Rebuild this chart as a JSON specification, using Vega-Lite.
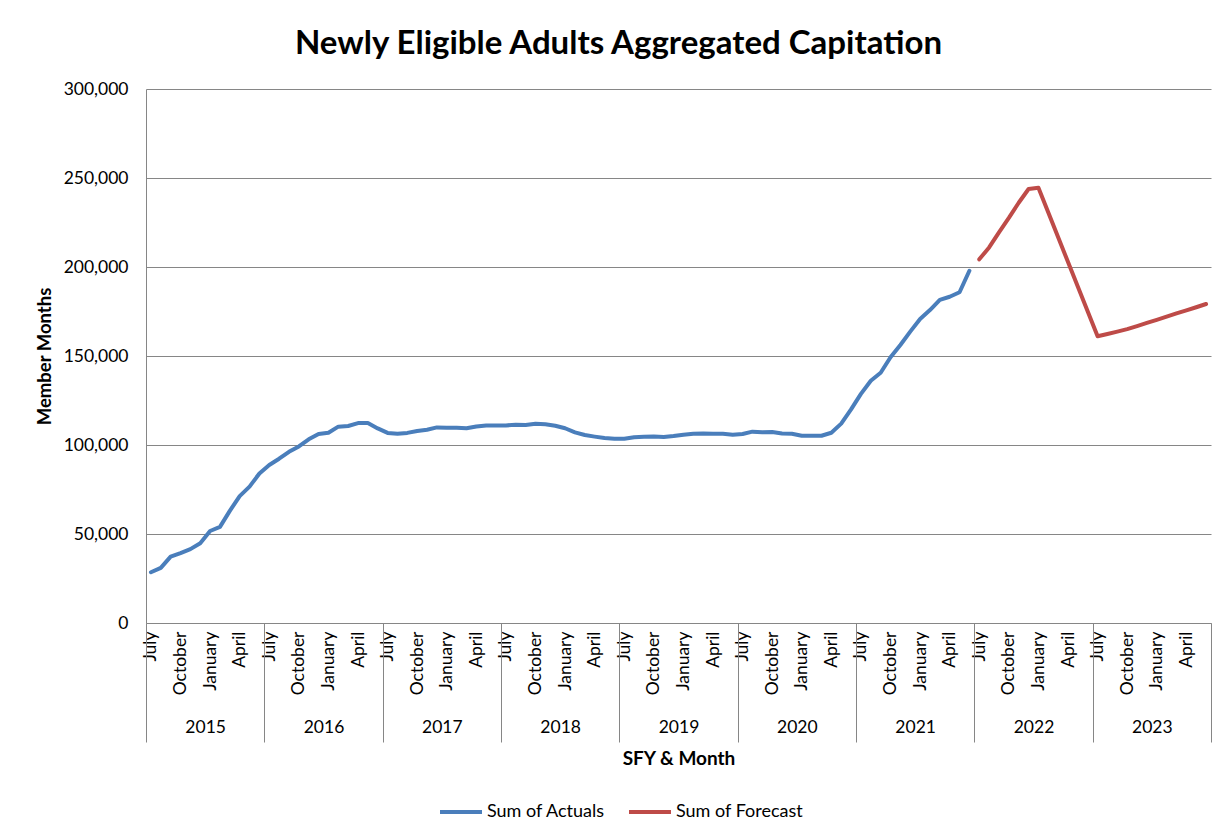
{
  "$schema": "https://vega.github.io/schema/vega-lite/v6.json",
  "width": 1065,
  "height": 534,
  "autosize": {"type": "none"},
  "padding": {"left": 146, "top": 89, "right": 11, "bottom": 217},
  "background": "white",
  "title": {"text": "Newly Eligible Adults Aggregated Capitation", "fontSize": 33, "font": "Lato", "fontWeight": "bold", "color": "black", "anchor": "middle", "dx": -60, "offset": 19},
  "config": {"font": "Lato", "view": {"stroke": null}},
  "data": {"values": [
    {"idx": 0, "series": "Sum of Actuals", "value": 28500},
    {"idx": 1, "series": "Sum of Actuals", "value": 31000},
    {"idx": 2, "series": "Sum of Actuals", "value": 37300},
    {"idx": 3, "series": "Sum of Actuals", "value": 39300},
    {"idx": 4, "series": "Sum of Actuals", "value": 41500},
    {"idx": 5, "series": "Sum of Actuals", "value": 44800},
    {"idx": 6, "series": "Sum of Actuals", "value": 51700},
    {"idx": 7, "series": "Sum of Actuals", "value": 54000},
    {"idx": 8, "series": "Sum of Actuals", "value": 63000},
    {"idx": 9, "series": "Sum of Actuals", "value": 71300},
    {"idx": 10, "series": "Sum of Actuals", "value": 76600},
    {"idx": 11, "series": "Sum of Actuals", "value": 84000},
    {"idx": 12, "series": "Sum of Actuals", "value": 88800},
    {"idx": 13, "series": "Sum of Actuals", "value": 92300},
    {"idx": 14, "series": "Sum of Actuals", "value": 96200},
    {"idx": 15, "series": "Sum of Actuals", "value": 99200},
    {"idx": 16, "series": "Sum of Actuals", "value": 103200},
    {"idx": 17, "series": "Sum of Actuals", "value": 106200},
    {"idx": 18, "series": "Sum of Actuals", "value": 106900},
    {"idx": 19, "series": "Sum of Actuals", "value": 110300},
    {"idx": 20, "series": "Sum of Actuals", "value": 110700},
    {"idx": 21, "series": "Sum of Actuals", "value": 112300},
    {"idx": 22, "series": "Sum of Actuals", "value": 112300},
    {"idx": 23, "series": "Sum of Actuals", "value": 109300},
    {"idx": 24, "series": "Sum of Actuals", "value": 106800},
    {"idx": 25, "series": "Sum of Actuals", "value": 106300},
    {"idx": 26, "series": "Sum of Actuals", "value": 106800},
    {"idx": 27, "series": "Sum of Actuals", "value": 107900},
    {"idx": 28, "series": "Sum of Actuals", "value": 108600},
    {"idx": 29, "series": "Sum of Actuals", "value": 109900},
    {"idx": 30, "series": "Sum of Actuals", "value": 109700},
    {"idx": 31, "series": "Sum of Actuals", "value": 109700},
    {"idx": 32, "series": "Sum of Actuals", "value": 109400},
    {"idx": 33, "series": "Sum of Actuals", "value": 110400},
    {"idx": 34, "series": "Sum of Actuals", "value": 111000},
    {"idx": 35, "series": "Sum of Actuals", "value": 111000},
    {"idx": 36, "series": "Sum of Actuals", "value": 111000},
    {"idx": 37, "series": "Sum of Actuals", "value": 111400},
    {"idx": 38, "series": "Sum of Actuals", "value": 111200},
    {"idx": 39, "series": "Sum of Actuals", "value": 111900},
    {"idx": 40, "series": "Sum of Actuals", "value": 111600},
    {"idx": 41, "series": "Sum of Actuals", "value": 110800},
    {"idx": 42, "series": "Sum of Actuals", "value": 109400},
    {"idx": 43, "series": "Sum of Actuals", "value": 107100},
    {"idx": 44, "series": "Sum of Actuals", "value": 105600},
    {"idx": 45, "series": "Sum of Actuals", "value": 104700},
    {"idx": 46, "series": "Sum of Actuals", "value": 103900},
    {"idx": 47, "series": "Sum of Actuals", "value": 103500},
    {"idx": 48, "series": "Sum of Actuals", "value": 103500},
    {"idx": 49, "series": "Sum of Actuals", "value": 104300},
    {"idx": 50, "series": "Sum of Actuals", "value": 104700},
    {"idx": 51, "series": "Sum of Actuals", "value": 104800},
    {"idx": 52, "series": "Sum of Actuals", "value": 104500},
    {"idx": 53, "series": "Sum of Actuals", "value": 105000},
    {"idx": 54, "series": "Sum of Actuals", "value": 105800},
    {"idx": 55, "series": "Sum of Actuals", "value": 106300},
    {"idx": 56, "series": "Sum of Actuals", "value": 106500},
    {"idx": 57, "series": "Sum of Actuals", "value": 106300},
    {"idx": 58, "series": "Sum of Actuals", "value": 106300},
    {"idx": 59, "series": "Sum of Actuals", "value": 105800},
    {"idx": 60, "series": "Sum of Actuals", "value": 106200},
    {"idx": 61, "series": "Sum of Actuals", "value": 107500},
    {"idx": 62, "series": "Sum of Actuals", "value": 107100},
    {"idx": 63, "series": "Sum of Actuals", "value": 107300},
    {"idx": 64, "series": "Sum of Actuals", "value": 106500},
    {"idx": 65, "series": "Sum of Actuals", "value": 106300},
    {"idx": 66, "series": "Sum of Actuals", "value": 105200},
    {"idx": 67, "series": "Sum of Actuals", "value": 105200},
    {"idx": 68, "series": "Sum of Actuals", "value": 105200},
    {"idx": 69, "series": "Sum of Actuals", "value": 106900},
    {"idx": 70, "series": "Sum of Actuals", "value": 112000},
    {"idx": 71, "series": "Sum of Actuals", "value": 120000},
    {"idx": 72, "series": "Sum of Actuals", "value": 128700},
    {"idx": 73, "series": "Sum of Actuals", "value": 136100},
    {"idx": 74, "series": "Sum of Actuals", "value": 140600},
    {"idx": 75, "series": "Sum of Actuals", "value": 149300},
    {"idx": 76, "series": "Sum of Actuals", "value": 156200},
    {"idx": 77, "series": "Sum of Actuals", "value": 163700},
    {"idx": 78, "series": "Sum of Actuals", "value": 170800},
    {"idx": 79, "series": "Sum of Actuals", "value": 175800},
    {"idx": 80, "series": "Sum of Actuals", "value": 181500},
    {"idx": 81, "series": "Sum of Actuals", "value": 183300},
    {"idx": 82, "series": "Sum of Actuals", "value": 185800},
    {"idx": 83, "series": "Sum of Actuals", "value": 197900},
    {"idx": 84, "series": "Sum of Forecast", "value": 204300},
    {"idx": 85, "series": "Sum of Forecast", "value": 211000},
    {"idx": 86, "series": "Sum of Forecast", "value": 219500},
    {"idx": 87, "series": "Sum of Forecast", "value": 227600},
    {"idx": 88, "series": "Sum of Forecast", "value": 236100},
    {"idx": 89, "series": "Sum of Forecast", "value": 243800},
    {"idx": 90, "series": "Sum of Forecast", "value": 244500},
    {"idx": 91, "series": "Sum of Forecast", "value": 230600},
    {"idx": 92, "series": "Sum of Forecast", "value": 216700},
    {"idx": 93, "series": "Sum of Forecast", "value": 202800},
    {"idx": 94, "series": "Sum of Forecast", "value": 188900},
    {"idx": 95, "series": "Sum of Forecast", "value": 175000},
    {"idx": 96, "series": "Sum of Forecast", "value": 161100},
    {"idx": 97, "series": "Sum of Forecast", "value": 162400},
    {"idx": 98, "series": "Sum of Forecast", "value": 163700},
    {"idx": 99, "series": "Sum of Forecast", "value": 165100},
    {"idx": 100, "series": "Sum of Forecast", "value": 166800},
    {"idx": 101, "series": "Sum of Forecast", "value": 168600},
    {"idx": 102, "series": "Sum of Forecast", "value": 170300},
    {"idx": 103, "series": "Sum of Forecast", "value": 172100},
    {"idx": 104, "series": "Sum of Forecast", "value": 173900},
    {"idx": 105, "series": "Sum of Forecast", "value": 175600},
    {"idx": 106, "series": "Sum of Forecast", "value": 177400},
    {"idx": 107, "series": "Sum of Forecast", "value": 179200}
  ]},
  "resolve": {"axis": {"x": "independent"}},
  "layer": [
    {
      "mark": {"type": "line", "strokeWidth": 4, "strokeCap": "round", "strokeJoin": "round"},
      "encoding": {
        "x": {
          "field": "idx", "type": "quantitative",
          "scale": {"domain": [-0.5, 107.5], "nice": false, "zero": false},
          "axis": {
            "orient": "bottom",
            "values": [0, 3, 6, 9, 12, 15, 18, 21, 24, 27, 30, 33, 36, 39, 42, 45, 48, 51, 54, 57, 60, 63, 66, 69, 72, 75, 78, 81, 84, 87, 90, 93, 96, 99, 102, 105],
            "labelExpr": "['July','October','January','April'][(datum.value/3)%4]",
            "labelAngle": -90, "labelAlign": "right", "labelBaseline": "middle",
            "labelPadding": 8, "labelFlush": false, "labelOverlap": false,
            "ticks": false, "grid": false, "domainColor": "#868686", "domainWidth": 1,
            "title": null, "labelFontSize": 17.5, "labelColor": "black", "labelFont": "Lato"
          }
        },
        "y": {
          "field": "value", "type": "quantitative",
          "scale": {"domain": [0, 300000], "nice": false},
          "axis": {
            "values": [0, 50000, 100000, 150000, 200000, 250000, 300000],
            "format": ",.0f", "grid": true, "gridColor": "#868686", "gridWidth": 1,
            "ticks": false, "labelPadding": 18, "domainColor": "#868686",
            "title": "Member Months", "titleFontSize": 18.5, "titleFontWeight": "bold", "titleColor": "black",
            "titlePadding": 9, "labelFontSize": 17.5, "labelColor": "black", "labelFont": "Lato", "titleFont": "Lato"
          }
        },
        "color": {
          "field": "series", "type": "nominal",
          "scale": {"domain": ["Sum of Actuals", "Sum of Forecast"], "range": ["#4A7EBB", "#BE4B48"]},
          "legend": {
            "orient": "none", "direction": "horizontal", "legendX": 292, "legendY": 700,
            "title": null, "symbolType": "stroke", "symbolSize": 1764, "symbolStrokeWidth": 4,
            "labelFontSize": 18, "labelColor": "black", "labelFont": "Lato", "columnPadding": 16, "labelOffset": 3
          }
        }
      }
    },
    {
      "mark": {"type": "point", "opacity": 0},
      "encoding": {
        "x": {
          "field": "idx", "type": "quantitative",
          "axis": {
            "orient": "bottom",
            "values": [-0.5, 11.5, 23.5, 35.5, 47.5, 59.5, 71.5, 83.5, 95.5, 107.5],
            "labels": false, "tickSize": 119, "tickColor": "#868686", "tickWidth": 1,
            "domain": false, "grid": false, "title": null
          }
        }
      }
    },
    {
      "mark": {"type": "point", "opacity": 0},
      "encoding": {
        "x": {
          "field": "idx", "type": "quantitative",
          "axis": {
            "orient": "bottom",
            "values": [5.5, 17.5, 29.5, 41.5, 53.5, 65.5, 77.5, 89.5, 101.5],
            "labelExpr": "'' + (2015 + (datum.value - 5.5) / 12)",
            "ticks": false, "domain": false, "grid": false, "labelFlush": false,
            "labelPadding": 95, "labelFontSize": 17.5, "labelColor": "black", "labelFont": "Lato",
            "title": "SFY & Month", "titleFontWeight": "bold", "titleFontSize": 19, "titleColor": "black",
            "titleFont": "Lato", "titlePadding": 14
          }
        }
      }
    }
  ]
}
